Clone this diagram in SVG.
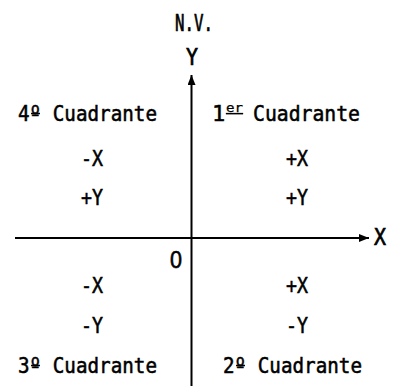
<svg xmlns="http://www.w3.org/2000/svg" width="393" height="386" viewBox="0 0 393 386">
<style>
text{font-family:"DejaVu Sans Mono","Liberation Mono",monospace;font-size:22px;fill:#000;stroke:#000;stroke-width:0.55;}
.ax{stroke:#000;stroke-width:2;fill:none;}
.ul{stroke:#000;stroke-width:1.5;}
.big{font-size:23px;stroke-width:0.7;}
.zero{font-family:"Liberation Sans","DejaVu Sans",sans-serif;font-size:24px;stroke-width:0.6;}
.sup{font-size:12px;stroke-width:0.25;}
</style>
<defs>
<marker id="ah" viewBox="0 0 10 8" refX="10" refY="4" markerWidth="10" markerHeight="8" markerUnits="userSpaceOnUse" orient="auto">
<path d="M0,0 L10,4 L0,8 Z" fill="#000"/>
</marker>
</defs>
<rect width="393" height="386" fill="#fff"/>
<g id="connectors">
<line class="ax" x1="191.5" y1="386" x2="191.5" y2="75" marker-end="url(#ah)"/>
<line class="ax" x1="15" y1="238" x2="369" y2="238" marker-end="url(#ah)"/>
</g>
<g id="nv"><text class="big" x="175" y="31" textLength="38" lengthAdjust="spacingAndGlyphs">N.V.</text></g>
<g id="ylabel"><text class="big" x="186" y="65" textLength="12" lengthAdjust="spacingAndGlyphs">Y</text></g>
<g id="xlabel"><text class="big" x="374" y="245" textLength="12" lengthAdjust="spacingAndGlyphs">X</text></g>
<g id="origin"><text class="zero" x="170" y="268" textLength="12" lengthAdjust="spacingAndGlyphs">0</text></g>
<g id="q4">
<text x="18" y="121" textLength="139" lengthAdjust="spacingAndGlyphs">4º Cuadrante</text>
<line class="ul" x1="31" y1="113.5" x2="40" y2="113.5"/>
<text x="81" y="166" textLength="22" lengthAdjust="spacingAndGlyphs">-X</text>
<text x="81" y="205" textLength="22" lengthAdjust="spacingAndGlyphs">+Y</text>
</g>
<g id="q1">
<text x="212" y="121">1<tspan class="sup" x="226" y="112" text-decoration="underline" textLength="17" lengthAdjust="spacingAndGlyphs">er</tspan></text>
<text x="253" y="121" textLength="107" lengthAdjust="spacingAndGlyphs">Cuadrante</text>
<text x="286" y="166" textLength="22" lengthAdjust="spacingAndGlyphs">+X</text>
<text x="286" y="205" textLength="22" lengthAdjust="spacingAndGlyphs">+Y</text>
</g>
<g id="q3">
<text x="81" y="293" textLength="22" lengthAdjust="spacingAndGlyphs">-X</text>
<text x="81" y="333" textLength="22" lengthAdjust="spacingAndGlyphs">-Y</text>
<text x="18" y="373" textLength="139" lengthAdjust="spacingAndGlyphs">3º Cuadrante</text>
<line class="ul" x1="31" y1="365.5" x2="40" y2="365.5"/>
</g>
<g id="q2">
<text x="286" y="293" textLength="22" lengthAdjust="spacingAndGlyphs">+X</text>
<text x="286" y="333" textLength="22" lengthAdjust="spacingAndGlyphs">-Y</text>
<text x="223" y="373" textLength="139" lengthAdjust="spacingAndGlyphs">2º Cuadrante</text>
<line class="ul" x1="236" y1="365.5" x2="245" y2="365.5"/>
</g>
</svg>
